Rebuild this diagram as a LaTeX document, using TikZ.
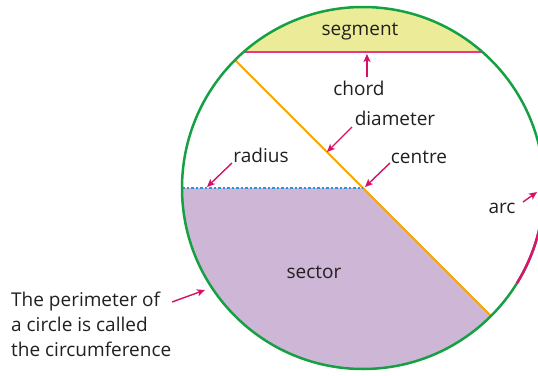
\documentclass[tikz,border=0pt]{standalone}
\usepackage{fontspec}
\setmainfont{Open Sans}
\usetikzlibrary{arrows.meta}
\definecolor{greenc}{RGB}{22,160,68}
\definecolor{segfill}{RGB}{236,236,152}
\definecolor{chordc}{RGB}{232,56,140}
\definecolor{orangec}{RGB}{247,166,0}
\definecolor{secfill}{RGB}{206,182,214}
\definecolor{arrowc}{RGB}{214,16,100}
\definecolor{arcc}{RGB}{220,20,110}
\definecolor{bluec}{RGB}{40,150,220}
\definecolor{txt}{RGB}{35,31,32}
\begin{document}
\begin{tikzpicture}[x=1pt,y=1pt,
  lbl/.style={font=\fontsize{19}{25}\selectfont, text=txt, inner sep=0pt},
  ptr/.style={draw=arrowc, line width=1.4pt, -{Stealth[length=8pt,width=7pt,inset=2pt]}}]
\useasboundingbox (0,0) rectangle (538,-375);
\clip (0,0) rectangle (538,-375);
\coordinate (c) at (363,-188);
\def\R{181}
\path (c) ++(131.3:\R) coordinate (chL);
\path (c) ++(48.7:\R) coordinate (chR);
\path (c) ++(135:\R) coordinate (d1);
\path (c) ++(-45:\R) coordinate (d2);
\path (c) ++(180:\R) coordinate (rL);
% fills
\fill[segfill] (chL) arc[start angle=131.3,end angle=48.7,radius=\R] -- cycle;
\fill[secfill] (c) -- (rL) arc[start angle=180,end angle=315,radius=\R] -- cycle;
% lines
\draw[chordc, line width=1.6pt] (chL) -- (chR);
\draw[orangec, line width=2pt] (d1) -- (d2);
\draw[bluec, line width=1.5pt, dash pattern=on 2.5pt off 2pt] (rL) -- (c);
\draw[greenc, line width=2.5pt] (c) circle[radius=\R];
\path (c) ++(10:\R) coordinate (arcA);
\draw[arcc, line width=2.5pt] (arcA) arc[start angle=10,end angle=-31.7,radius=\R];
% labels
\node[lbl, anchor=base] (segment) at (360,-35) {segment};
\node[lbl, anchor=base] (chord) at (359,-95) {chord};
\node[lbl, anchor=base] (diameter) at (395,-125) {diameter};
\node[lbl, anchor=base] (centre) at (419,-163) {centre};
\node[lbl, anchor=base] (radius) at (261,-162) {radius};
\node[lbl, anchor=base] (arc) at (502,-213) {arc};
\node[lbl, anchor=base] (sector) at (314,-278) {sector};
\node[lbl, align=left, anchor=north west] (circ) at (11,-292) {The perimeter of\\a circle is called\\the circumference};
% arrow ends
\coordinate (chordT) at (367,-77);   \coordinate (chordH) at (367,-54);
\coordinate (diamT) at (352,-127);   \coordinate (diamH) at (327,-152);
\coordinate (centT) at (390,-163);   \coordinate (centH) at (365,-187);
\coordinate (radT) at (232,-163);    \coordinate (radH) at (207,-187);
\coordinate (arcT) at (523,-202);    \coordinate (arcH) at (537,-192);
\coordinate (circT) at (172,-302);   \coordinate (circH) at (205,-290);
\draw[ptr] (chordT) -- (chordH);
\draw[ptr] (diamT) -- (diamH);
\draw[ptr] (centT) -- (centH);
\draw[ptr] (radT) -- (radH);
\draw[ptr] (arcT) -- (arcH);
\draw[ptr] (circT) -- (circH);
\end{tikzpicture}
\end{document}
